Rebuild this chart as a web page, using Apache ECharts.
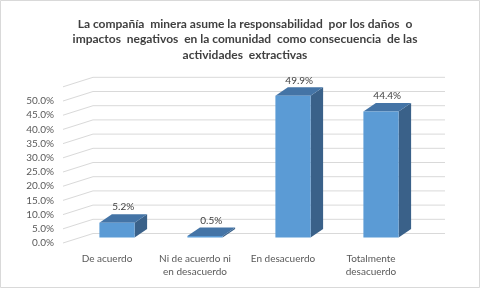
<!DOCTYPE html>
<html>
<head>
<meta charset="utf-8">
<script src="https://cdn.jsdelivr.net/npm/echarts@6/dist/echarts.min.js"></script>
<style>html,body{margin:0;padding:0;background:#fff}#c{width:480px;height:288px}</style>
</head>
<body>
<div id="c"></div>
<script>
var titleText = 'La compañía  minera asume la responsabilidad  por los daños  o\nimpactos  negativos  en la comunidad  como consecuencia  de las\nactividades  extractivas';
var categories = ['De acuerdo', 'Ni de acuerdo ni\nen desacuerdo', 'En desacuerdo', 'Totalmente\ndesacuerdo'];
var values = [5.2, 0.5, 49.9, 44.4];
var valueLabels = ['5.2%', '0.5%', '49.9%', '44.4%'];
var yTicks = [0, 5, 10, 15, 20, 25, 30, 35, 40, 45, 50, 55];

var FONT = 'Lato';
var WALL_DX = 30, WALL_DY = -9.5;
var BAR_OX = 10, BAR_OY = -5.5, BAR_DX = 12.5, BAR_DY = -8.5;

var chart = echarts.init(document.getElementById('c'), null, {renderer: 'canvas'});
chart.setOption({
  animation: false,
  backgroundColor: '#ffffff',
  title: {
    text: titleText,
    left: 240,
    top: 11,
    textAlign: 'center',
    textStyle: {fontFamily: FONT, fontSize: 12, fontWeight: 'bold', color: '#404040', lineHeight: 15.7}
  },
  graphic: [{
    type: 'rect', shape: {x: 0.5, y: 0.5, width: 479, height: 287},
    style: {fill: 'none', stroke: '#d9d9d9', lineWidth: 1}, silent: true
  }],
  grid: {left: 63, right: 65, top: 86.8, bottom: 45, containLabel: false},
  xAxis: {
    type: 'category', data: categories,
    axisLine: {show: false}, axisTick: {show: false},
    axisLabel: {fontFamily: FONT, fontSize: 10, color: '#595959', margin: 9, lineHeight: 13.5, interval: 0}
  },
  yAxis: {
    type: 'value', min: 0, max: 55, interval: 5,
    axisLine: {show: false}, axisTick: {show: false}, splitLine: {show: false},
    axisLabel: {fontFamily: FONT, fontSize: 10, color: '#595959', margin: 9,
      formatter: function (v) { return v === 55 ? '' : v.toFixed(1) + '%'; }}
  },
  series: [{
    type: 'custom', silent: true, z: 1,
    data: yTicks.map(function (v) { return [0, v]; }),
    renderItem: function (params, api) {
      var cs = params.coordSys;
      var y = api.coord([0, api.value(1)])[1];
      var x0 = cs.x, x1 = cs.x + cs.width;
      var st = {stroke: '#d9d9d9', lineWidth: 1, fill: null};
      return {type: 'group', children: [
        {type: 'line', shape: {x1: x0, y1: y, x2: x0 + WALL_DX, y2: y + WALL_DY}, style: st},
        {type: 'line', shape: {x1: x0 + WALL_DX, y1: y + WALL_DY, x2: x1 + WALL_DX, y2: y + WALL_DY}, style: st}
      ]};
    }
  }, {
    type: 'custom', silent: true, z: 2,
    data: values.map(function (v, i) { return [i, v]; }),
    renderItem: function (params, api) {
      var i = api.value(0), v = api.value(1);
      var pb = api.coord([i, 0]), pt = api.coord([i, v]);
      var w = api.size([1, 0])[0] * 0.4;
      var cx = pb[0] + BAR_OX;
      var xl = cx - w / 2, xr = cx + w / 2;
      var yb = pb[1] + BAR_OY, yt = pt[1] + BAR_OY;
      return {type: 'group', children: [
        {type: 'polygon', shape: {points: [[xr, yt], [xr + BAR_DX, yt + BAR_DY], [xr + BAR_DX, yb + BAR_DY], [xr, yb]]},
          style: {fill: '#3a6189'}},
        {type: 'polygon', shape: {points: [[xl, yt], [xr, yt], [xr + BAR_DX, yt + BAR_DY], [xl + BAR_DX, yt + BAR_DY]]},
          style: {fill: '#4474a6'}},
        {type: 'rect', shape: {x: xl, y: yt, width: w, height: Math.max(yb - yt, 0.8)},
          style: {fill: '#5b9bd5'}},
        {type: 'text', x: cx + BAR_DX / 2, y: yt + BAR_DY - 7,
          style: {text: valueLabels[params.dataIndex], fontFamily: FONT, fontSize: 10, fill: '#404040',
            align: 'center', verticalAlign: 'middle'}}
      ]};
    }
  }]
});
</script>
</body>
</html>
